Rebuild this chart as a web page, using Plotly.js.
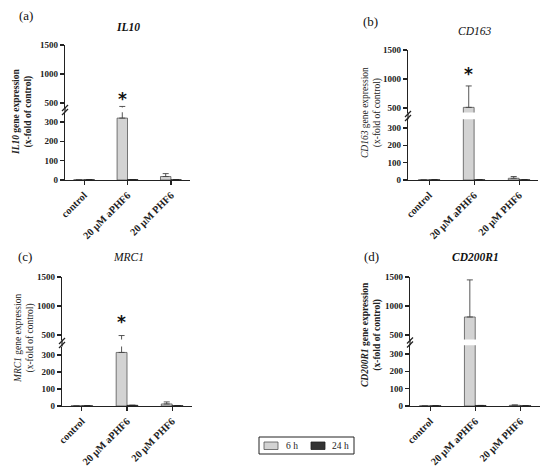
<!DOCTYPE html>
<html><head><meta charset="utf-8">
<script src="https://cdn.plot.ly/plotly-3.0.1.min.js"></script>
<style>html,body{margin:0;padding:0;background:#fff}#c{width:550px;height:467px}</style>
</head><body><div id="c"></div>
<script>
// ---- data ----
const categories = ["control", "20 \u00b5M aPHF6", "20 \u00b5M PHF6"];
const genes = ["IL10", "CD163", "MRC1", "CD200R1"];
const panelLetters = ["(a)", "(b)", "(c)", "(d)"];
const seriesNames = ["6 h", "24 h"];
const series6h = [
  [1, 320, 18],
  [1, 510, 10],
  [1, 315, 12],
  [1, 810, 4]
];
const err6h = [
  [0, 120, 15],
  [0, 370, 10],
  [0, 175, 12],
  [0, 640, 2]
];
const series24h = [
  [1, 2, 1],
  [1, 1, 1],
  [1, 4, 2],
  [1, 3, 1]
];
const err24h = [
  [0, 0, 0],
  [0, 0, 0],
  [0, 0, 0],
  [0, 0, 0]
];
const sigY = [620, 1140, 780, null];   // asterisk heights (value scale)
const lowerTicks = [0, 100, 200, 300];
const upperTicks = [500, 1000, 1500];
const lowerRange = [0, 350];
const upperRange = [420, 1500];

// ---- layout geometry (pixels) ----
const W = 550, H = 467;
const geo = [
  {xl:65,  xr:190, y0:180, ylt:112.3, yub:107.6, yut:45,  xr0:-0.44, xr1:2.44, tx:22,  ty:112, lx:26,  ly:15,  gx:128, gy:27,  gb:true },
  {xl:408, xr:538, y0:180, ylt:119.3, yub:112.6, yut:50,  xr0:-0.47, xr1:2.42, tx:371, ty:113, lx:370, ly:21,  gx:474, gy:31,  gb:false},
  {xl:62,  xr:192, y0:406, ylt:346.5, yub:339.6, yut:277, xr0:-0.44, xr1:2.44, tx:24,  ty:339, lx:25,  ly:256, gx:128, gy:257, gb:false},
  {xl:410, xr:540, y0:406, ylt:345.3, yub:339.6, yut:277, xr0:-0.45, xr1:2.44, tx:371, ty:335, lx:371, ly:256, gx:475, gy:257, gb:true }
];
const px = v => v / W, py = v => 1 - v / H;

const SERIF = "Liberation Serif, Times New Roman, serif";
const AX = "#222";
const C6 = "#d3d3d3", C6L = "#555", C24 = "#333";

const traces = [];
const layout = {
  width: W, height: H,
  margin: {l:0, r:0, t:0, b:0},
  paper_bgcolor: "#fff", plot_bgcolor: "rgba(0,0,0,0)",
  barmode: "group", bargap: 0.52, bargroupgap: 0,
  font: {family: SERIF, color: AX, size: 9},
  showlegend: false,
  annotations: [], shapes: []
};

geo.forEach((g, i) => {
  const xa = "x" + (i + 1);
  const yl = "y" + (2 * i + 1), yu = "y" + (2 * i + 2);
  const xKey = i === 0 ? "xaxis" : "xaxis" + (i + 1);
  const ylKey = (2 * i + 1) === 1 ? "yaxis" : "yaxis" + (2 * i + 1);
  const yuKey = "yaxis" + (2 * i + 2);

  [yl, yu].forEach((ya) => {
    traces.push({
      type: "bar", name: seriesNames[0], x: categories, y: series6h[i],
      xaxis: xa, yaxis: ya,
      marker: {color: C6, line: {color: C6L, width: 0.8}},
      error_y: {type: "data", symmetric: false, array: err6h[i], arrayminus: err6h[i].map(() => 0),
                color: "#444", thickness: 0.9, width: 3},
      hoverinfo: "skip"
    });
    traces.push({
      type: "bar", name: seriesNames[1], x: categories, y: series24h[i],
      xaxis: xa, yaxis: ya,
      marker: {color: C24, line: {color: "#222", width: 0.8}},
      error_y: {type: "data", symmetric: false, array: err24h[i], arrayminus: err24h[i].map(() => 0),
                color: "#222", thickness: 0.9, width: 3},
      hoverinfo: "skip"
    });
  });

  const tickfont = {family: SERIF, size: 9, color: AX, weight: "bold"};
  layout[xKey] = {
    domain: [px(g.xl), px(g.xr)], anchor: yl, range: [g.xr0, g.xr1],
    type: "category", showline: true, linecolor: AX, linewidth: 1.2,
    ticks: "outside", ticklen: 4, tickwidth: 1.2, tickcolor: AX,
    tickangle: -45, tickfont: {family: SERIF, size: 10.3, color: AX, weight: "bold"},
    showgrid: false, zeroline: false, fixedrange: true
  };
  layout[ylKey] = {
    domain: [py(g.y0), py(g.ylt)], anchor: xa, range: lowerRange,
    tickvals: lowerTicks, ticktext: lowerTicks.map(String),
    showline: true, linecolor: AX, linewidth: 1.2,
    ticks: "outside", ticklen: 4, tickwidth: 1.2, tickcolor: AX,
    tickfont: tickfont, showgrid: false, zeroline: false, fixedrange: true
  };
  layout[yuKey] = {
    domain: [py(g.yub), py(g.yut)], anchor: xa, range: upperRange,
    tickvals: upperTicks, ticktext: upperTicks.map(String),
    showline: true, linecolor: AX, linewidth: 1.2,
    ticks: "outside", ticklen: 4, tickwidth: 1.2, tickcolor: AX,
    tickfont: tickfont, showgrid: false, zeroline: false, fixedrange: true
  };

  // axis break marks
  const bm = (g.ylt + g.yub) / 2;
  layout.shapes.push({type: "line", xref: "paper", yref: "paper",
    x0: px(g.xl), x1: px(g.xl), y0: py(g.ylt), y1: py(g.yub), line: {color: AX, width: 1.2}});
  [-2, 2].forEach(d => {
    layout.shapes.push({type: "line", xref: "paper", yref: "paper",
      x0: px(g.xl - 3), y0: py(bm + d + 3), x1: px(g.xl + 3), y1: py(bm + d - 3),
      line: {color: AX, width: 1.3}});
  });

  // y-axis title
  layout.annotations.push({
    xref: "paper", yref: "paper", x: px(g.tx), y: py(g.ty), xanchor: "center", yanchor: "middle",
    textangle: -90, showarrow: false, align: "center",
    text: "<i>" + genes[i] + "</i> gene expression<br>(x-fold of control)",
    font: {family: SERIF, size: 9.5, color: AX, weight: g.gb ? "bold" : "normal"}
  });
  // panel letter
  layout.annotations.push({
    xref: "paper", yref: "paper", x: px(g.lx), y: py(g.ly), xanchor: "center", yanchor: "middle",
    showarrow: false, text: panelLetters[i], font: {family: SERIF, size: 13, color: "#111"}
  });
  // gene title
  layout.annotations.push({
    xref: "paper", yref: "paper", x: px(g.gx), y: py(g.gy), xanchor: "center", yanchor: "middle",
    showarrow: false, text: "<i>" + genes[i] + "</i>",
    font: {family: SERIF, size: 11.5, color: "#111", weight: g.gb ? "bold" : "normal"}
  });
  // significance asterisk
  if (sigY[i] !== null) {
    layout.annotations.push({
      xref: xa, yref: yu, x: 1 - 0.12, y: sigY[i], xanchor: "center", yanchor: "middle",
      showarrow: false, text: "*", yshift: -3,
      font: {family: "DejaVu Sans", size: 17, color: "#111", weight: "bold"}
    });
  }
});

// ---- legend (drawn box) ----
layout.shapes.push({type: "rect", xref: "paper", yref: "paper",
  x0: px(259), x1: px(354), y0: py(454), y1: py(437), line: {color: "#222", width: 1}, fillcolor: "#fff"});
layout.shapes.push({type: "rect", xref: "paper", yref: "paper",
  x0: px(264), x1: px(278), y0: py(449.5), y1: py(442), line: {color: C6L, width: 0.8}, fillcolor: C6});
layout.shapes.push({type: "rect", xref: "paper", yref: "paper",
  x0: px(311), x1: px(325), y0: py(449.5), y1: py(442), line: {color: "#222", width: 0.8}, fillcolor: C24});
layout.annotations.push({xref: "paper", yref: "paper", x: px(284), y: py(445.5), xanchor: "left", yanchor: "middle",
  showarrow: false, text: seriesNames[0], font: {family: SERIF, size: 9.5, color: "#222"}});
layout.annotations.push({xref: "paper", yref: "paper", x: px(330), y: py(445.5), xanchor: "left", yanchor: "middle",
  showarrow: false, text: seriesNames[1], font: {family: SERIF, size: 9.5, color: "#222"}});

Plotly.newPlot("c", traces, layout, {displayModeBar: false, staticPlot: true});
</script></body></html>
